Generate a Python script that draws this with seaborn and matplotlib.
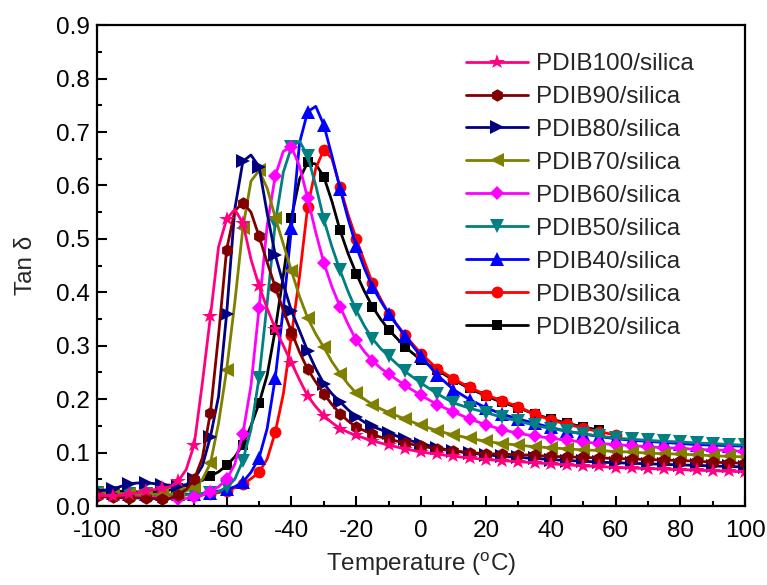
import pandas as pd
import matplotlib
matplotlib.use("Agg")
import matplotlib.pyplot as plt
from matplotlib.lines import Line2D
from matplotlib.ticker import MultipleLocator
import seaborn as sns

# temperature grid (degC), denser through the transition region
temp = [-100, -95, -90, -85, -80,
        -77.5, -75, -72.5, -70, -67.5, -65, -62.5, -60,
        -57.5, -55, -52.5, -50, -47.5, -45, -42.5, -40,
        -37.5, -35, -32.5, -30, -27.5, -25, -22.5, -20,
        -17.5, -15, -12.5, -10,
        -5, 0, 5, 10, 15, 20, 25, 30, 35, 40, 45, 50, 55, 60, 65, 70, 75, 80, 85, 90, 95, 100]

nan = float("nan")

pdib100 = [0.020, 0.019, 0.022, 0.028, 0.033,
           0.036, 0.046, 0.068, 0.115, 0.230, 0.355, 0.485, 0.537,
           0.555, 0.530, 0.462, 0.412, 0.370, 0.332, 0.300, 0.268,
           0.236, 0.206, 0.186, 0.169, 0.156, 0.145, 0.138, 0.132,
           0.127, 0.122, 0.118, 0.114,
           0.107, 0.101, 0.097, 0.093, 0.090, 0.087, 0.085, 0.083, 0.081, 0.079, 0.077,
           0.075, 0.074, 0.072, 0.071, 0.070, 0.069, 0.068, 0.067, 0.066, 0.065, 0.064]
pdib90 = [0.018, 0.016, 0.015, 0.015, 0.013,
          0.014, 0.021, 0.031, 0.050, 0.090, 0.175, 0.320, 0.480,
          0.552, 0.568, 0.550, 0.505, 0.456, 0.410, 0.366, 0.326,
          0.288, 0.256, 0.232, 0.210, 0.190, 0.173, 0.159, 0.148,
          0.141, 0.134, 0.129, 0.125,
          0.118, 0.112, 0.107, 0.103, 0.100, 0.098, 0.097, 0.096, 0.095, 0.093, 0.092,
          0.091, 0.090, 0.089, 0.088, 0.087, 0.086, 0.085, 0.084, 0.082, 0.081, 0.080]
pdib80 = [0.028, 0.032, 0.042, 0.044, 0.040,
          0.039, 0.038, 0.040, 0.050, 0.075, 0.130, 0.205, 0.360,
          0.555, 0.645, 0.657, 0.635, 0.548, 0.470, 0.415, 0.365,
          0.328, 0.290, 0.257, 0.229, 0.210, 0.195, 0.180, 0.167,
          0.157, 0.149, 0.143, 0.137,
          0.125, 0.117, 0.109, 0.103, 0.099, 0.096, 0.093, 0.091, 0.089, 0.087, 0.085,
          0.084, 0.082, 0.081, 0.080, 0.079, 0.078, 0.077, 0.076, 0.075, 0.074, 0.073]
pdib70 = [0.025, 0.022, 0.022, 0.022, 0.022,
          0.022, 0.024, 0.028, 0.035, 0.050, 0.080, 0.155, 0.255,
          0.380, 0.520, 0.608, 0.628, 0.595, 0.540, 0.490, 0.440,
          0.392, 0.352, 0.322, 0.297, 0.270, 0.248, 0.228, 0.211,
          0.200, 0.190, 0.182, 0.175,
          0.163, 0.151, 0.141, 0.133, 0.127, 0.121, 0.117, 0.114, 0.111, 0.109, 0.107,
          0.105, 0.104, 0.102, 0.101, 0.099, 0.098, 0.097, 0.096, 0.094, 0.093, 0.092]
pdib60 = [0.022, 0.020, 0.018, 0.017, 0.016,
          0.015, 0.014, 0.014, 0.016, 0.020, 0.027, 0.036, 0.050,
          0.078, 0.135, 0.225, 0.370, 0.525, 0.618, 0.664, 0.672,
          0.636, 0.576, 0.512, 0.455, 0.410, 0.373, 0.340, 0.310,
          0.289, 0.272, 0.258, 0.247,
          0.226, 0.207, 0.190, 0.176, 0.163, 0.152, 0.143, 0.136, 0.131, 0.127, 0.123,
          0.120, 0.117, 0.115, 0.113, 0.111, 0.109, 0.108, 0.106, 0.105, 0.104, 0.102]
pdib50 = [0.025, 0.024, 0.023, 0.022, 0.022,
          0.022, 0.021, 0.021, 0.022, 0.023, 0.024, 0.027, 0.035,
          0.050, 0.085, 0.143, 0.240, 0.380, 0.530, 0.625, 0.672,
          0.683, 0.655, 0.600, 0.536, 0.485, 0.441, 0.401, 0.366,
          0.337, 0.313, 0.295, 0.280,
          0.252, 0.230, 0.210, 0.193, 0.183, 0.175, 0.166, 0.159, 0.151, 0.145, 0.140,
          0.135, 0.131, 0.127, 0.125, 0.123, 0.121, 0.120, 0.118, 0.117, 0.115, 0.114]
pdib40 = [0.026, 0.024, 0.023, 0.022, 0.022,
          0.022, 0.022, 0.022, 0.022, 0.023, 0.025, 0.028, 0.031,
          0.036, 0.045, 0.063, 0.090, 0.145, 0.240, 0.370, 0.520,
          0.680, 0.738, 0.748, 0.713, 0.655, 0.594, 0.537, 0.486,
          0.445, 0.410, 0.384, 0.360,
          0.318, 0.280, 0.245, 0.218, 0.199, 0.184, 0.172, 0.163, 0.155, 0.147, 0.140,
          0.135, 0.130, 0.126, 0.123, 0.121, 0.119, 0.117, 0.115, 0.114, 0.113, 0.112]
pdib30 = [0.022, 0.021, 0.020, 0.020, 0.020,
          0.020, 0.020, 0.021, 0.021, 0.022, 0.023, 0.025, 0.028,
          0.034, 0.041, 0.051, 0.063, 0.088, 0.138, 0.210, 0.320,
          0.430, 0.560, 0.632, 0.667, 0.650, 0.597, 0.545, 0.500,
          0.458, 0.417, 0.388, 0.360,
          0.320, 0.285, 0.257, 0.238, 0.222, 0.208, 0.197, 0.186, 0.172, 0.161, 0.153,
          0.146, 0.139, 0.133, nan, nan, nan, nan, nan, nan, nan, nan]
pdib20 = [0.025, 0.028, 0.027, 0.026, 0.027,
          0.030, 0.034, 0.038, 0.042, 0.048, 0.056, 0.064, 0.076,
          0.092, 0.115, 0.150, 0.192, 0.245, 0.330, 0.432, 0.540,
          0.612, 0.643, 0.640, 0.616, 0.570, 0.516, 0.472, 0.435,
          0.402, 0.373, 0.350, 0.330,
          0.298, 0.273, 0.254, 0.236, 0.220, 0.206, 0.194, 0.184, 0.172, 0.163, 0.155,
          0.148, 0.142, nan, nan, nan, nan, nan, nan, nan, nan, nan]

samples = ["PDIB100/silica", "PDIB90/silica", "PDIB80/silica", "PDIB70/silica",
           "PDIB60/silica", "PDIB50/silica", "PDIB40/silica", "PDIB30/silica",
           "PDIB20/silica"]
tan_delta = [pdib100, pdib90, pdib80, pdib70, pdib60, pdib50, pdib40, pdib30, pdib20]

colors = ["#ff0080", "#800000", "#000080", "#808000", "#ff00ff",
          "#008080", "#0000ff", "#ff0000", "#000000"]
markers = ["*", "h", ">", "<", "D", "v", "^", "o", "s"]
msizes = [11.5, 9, 9.5, 9.5, 7.5, 9.5, 9.5, 8.5, 7.5]

wide = pd.DataFrame({"Temperature": temp})
for name, vals in zip(samples, tan_delta):
    wide[name] = vals
df = wide.melt(id_vars="Temperature", var_name="Sample", value_name="Tan")

sns.set_style("ticks")
plt.rcParams["font.family"] = ["Liberation Sans", "DejaVu Sans"]
plt.rcParams["mathtext.fontset"] = "custom"
plt.rcParams["mathtext.rm"] = "Liberation Sans"
plt.rcParams["axes.unicode_minus"] = False

fs = 17.5
lw = 2.0
fig = plt.figure(figsize=(7.67, 5.85), dpi=100)
ax = fig.add_axes([0.1265, 0.135, 0.845, 0.822])

# draw PDIB20 first so PDIB100 ends up on top
for i in reversed(range(len(samples))):
    sub = df[df["Sample"] == samples[i]].dropna().reset_index(drop=True)
    every = (sub["Temperature"] % 5 == 0).to_numpy()
    sns.lineplot(data=sub, x="Temperature", y="Tan", ax=ax, color=colors[i],
                 marker=markers[i], markersize=msizes[i], markeredgewidth=0,
                 markevery=every, linewidth=lw, errorbar=None, legend=False)

handles = [Line2D([], [], color=c, marker=m, markersize=s, markeredgewidth=0, linewidth=lw)
           for c, m, s in zip(colors, markers, msizes)]
ax.legend(handles, samples, loc="upper left", bbox_to_anchor=(0.569, 0.942),
          frameon=False, fontsize=fs, borderpad=0, borderaxespad=0,
          handlelength=2.55, handletextpad=0.35, labelspacing=0.45)

ax.set_xlim(-100, 100)
ax.set_ylim(0, 0.9)
ax.xaxis.set_major_locator(MultipleLocator(20))
ax.xaxis.set_minor_locator(MultipleLocator(10))
ax.yaxis.set_major_locator(MultipleLocator(0.1))
ax.yaxis.set_minor_locator(MultipleLocator(0.05))
ax.tick_params(which="both", direction="in", top=False, right=False, width=1.5,
               labelsize=fs, colors="black")
ax.tick_params(which="major", length=7)
ax.tick_params(which="minor", length=3.5)
ax.tick_params(axis="x", which="major", pad=10)
ax.tick_params(axis="y", which="major", pad=5)
for sp in ax.spines.values():
    sp.set_linewidth(1.6)
    sp.set_color("black")

ax.set_xlabel(r"Temperature ($^{\rm o}$C)", fontsize=fs, labelpad=6)
ax.set_ylabel("Tan δ", fontsize=fs, labelpad=14)

fig.savefig("out.png", dpi=100)
